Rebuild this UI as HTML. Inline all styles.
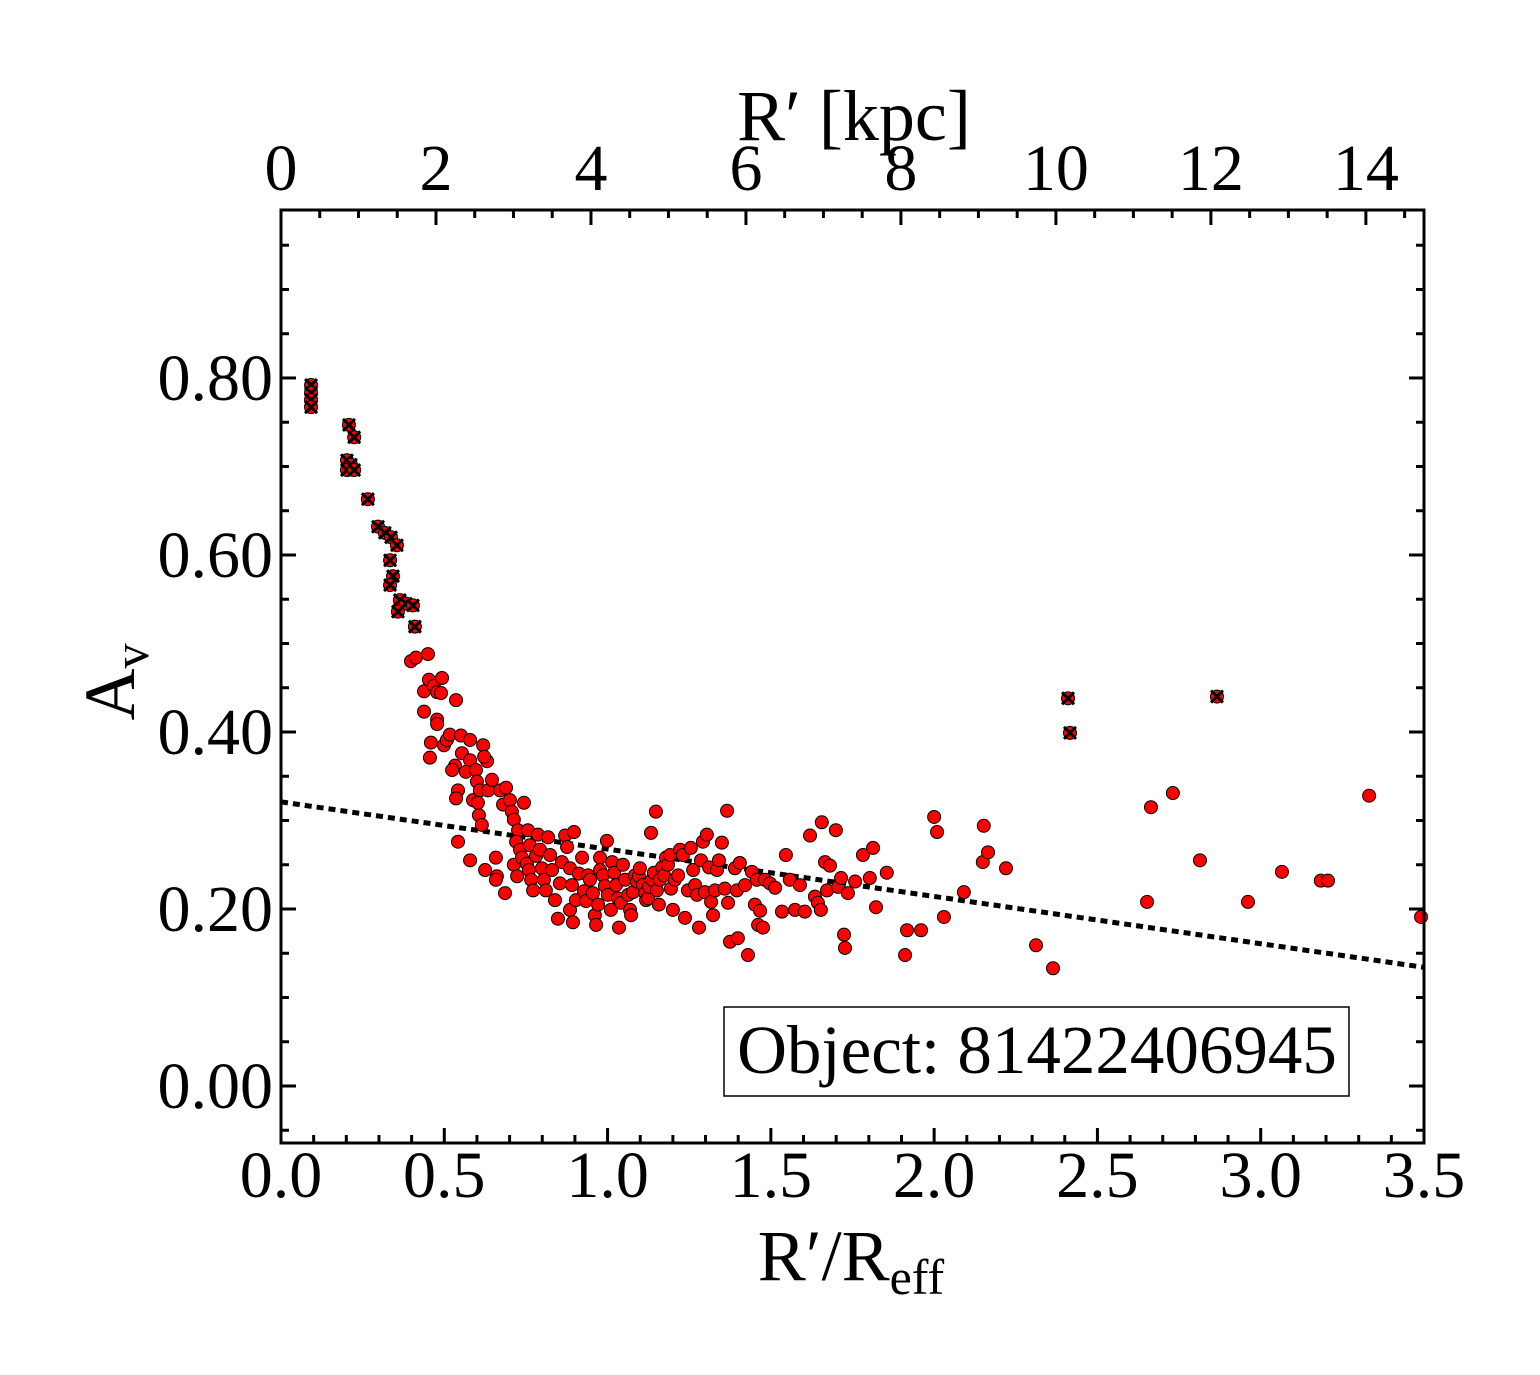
<!DOCTYPE html>
<html><head><meta charset="utf-8"><style>
html,body{margin:0;padding:0;background:#fff}
svg{display:block}
text{font-family:"Liberation Serif",serif;fill:#000}
</style></head><body>
<svg id="chart" width="1540" height="1375" viewBox="0 0 1540 1375" xmlns="http://www.w3.org/2000/svg">
<rect width="1540" height="1375" fill="#fff"/>
<g id="ticks"></g>
<g id="marks"></g>
<g id="labels"></g>
<rect x="281" y="210" width="1143" height="933" fill="none" stroke="#000" stroke-width="3"/>
<text x="851" y="1280" text-anchor="middle" font-size="72">R′/R<tspan font-size="50" dy="14">eff</tspan></text>
<text x="854" y="140" text-anchor="middle" font-size="72">R′ [kpc]</text>
<text transform="translate(134,682) rotate(-90)" text-anchor="middle" font-size="72">A<tspan font-size="50" dy="14">v</tspan></text>
<g>
<rect x="724" y="1007" width="625" height="89" fill="#fff" stroke="#000" stroke-width="1.5"/>
<text x="1037" y="1073" text-anchor="middle" font-size="69">Object: 81422406945</text>
</g>
</svg>
<script>
const xTicks=[0,0.5,1.0,1.5,2.0,2.5,3.0,3.5];
const xTickLabels=["0.0","0.5","1.0","1.5","2.0","2.5","3.0","3.5"];
const yTicks=[0,0.2,0.4,0.6,0.8];
const yTickLabels=["0.00","0.20","0.40","0.60","0.80"];
const kpcTicks=[0,2,4,6,8,10,12,14];
const kpcTickLabels=["0","2","4","6","8","10","12","14"];
const fitIntercept=0.321;
const fitSlope=-0.0534;
const flaggedX=[0.092,0.092,0.092,0.092,0.208,0.224,0.202,0.214,0.202,0.224,0.266,0.297,0.318,0.337,0.355,0.334,0.343,0.334,0.364,0.383,0.358,0.404,0.410,2.410,2.416,2.866];
const flaggedY=[0.792,0.783,0.775,0.767,0.747,0.733,0.707,0.702,0.696,0.696,0.663,0.632,0.625,0.620,0.611,0.594,0.576,0.566,0.549,0.545,0.536,0.543,0.519,0.438,0.399,0.440];
const pointX=[0.398,0.413,0.450,0.438,0.438,0.453,0.468,0.478,0.493,0.490,0.459,0.456,0.478,0.478,0.499,0.508,0.536,0.517,0.533,0.524,0.551,0.542,0.536,0.554,0.579,0.579,0.566,0.597,0.619,0.600,0.588,0.609,0.631,0.634,0.606,0.615,0.603,0.622,0.646,0.671,0.689,0.658,0.661,0.680,0.701,0.707,0.713,0.726,0.720,0.732,0.713,0.723,0.738,0.744,0.756,0.762,0.753,0.759,0.766,0.781,0.787,0.793,0.799,0.805,0.811,0.772,0.818,0.824,0.830,0.839,0.848,0.854,0.860,0.870,0.876,0.885,0.891,0.897,0.885,0.894,0.903,0.912,0.922,0.928,0.934,0.940,0.946,0.955,0.961,0.965,0.971,0.977,0.977,0.986,0.992,0.998,1.001,1.010,1.014,1.020,1.026,1.032,1.035,1.041,1.047,1.054,1.063,1.069,1.072,1.078,1.084,1.090,1.096,1.099,1.108,1.115,1.118,1.124,1.127,1.133,1.136,1.142,1.148,1.151,1.157,1.160,1.167,1.173,1.179,1.185,1.191,1.194,1.200,1.206,1.216,1.222,1.231,1.237,1.246,1.255,1.262,1.268,1.274,1.280,1.286,1.292,1.298,1.304,1.311,1.317,1.323,1.329,1.335,1.341,1.350,1.359,1.366,1.369,1.375,1.390,1.396,1.399,1.405,1.421,1.430,1.442,1.451,1.457,1.461,1.467,1.476,1.482,1.497,1.513,1.534,1.546,1.558,1.574,1.589,1.604,1.620,1.635,1.644,1.653,1.656,1.666,1.672,1.681,1.699,1.706,1.715,1.724,1.727,1.736,1.758,1.782,1.803,1.813,1.822,1.855,1.911,1.917,1.960,2.000,2.009,2.030,2.091,2.149,2.152,2.165,2.220,2.312,2.364,2.652,2.664,2.731,2.814,2.961,3.065,3.184,3.206,3.332,3.491,0.542,0.579,0.625,0.658,0.686];
const pointY=[0.480,0.484,0.488,0.446,0.423,0.459,0.452,0.445,0.461,0.444,0.388,0.371,0.414,0.409,0.385,0.391,0.436,0.397,0.362,0.357,0.396,0.334,0.325,0.376,0.391,0.368,0.355,0.357,0.385,0.344,0.323,0.334,0.367,0.334,0.306,0.295,0.320,0.372,0.346,0.334,0.337,0.258,0.237,0.318,0.323,0.310,0.301,0.289,0.276,0.267,0.250,0.237,0.258,0.320,0.289,0.272,0.251,0.244,0.233,0.260,0.284,0.267,0.246,0.233,0.221,0.221,0.281,0.261,0.244,0.210,0.189,0.229,0.253,0.283,0.270,0.246,0.227,0.287,0.199,0.185,0.210,0.240,0.258,0.220,0.209,0.238,0.233,0.218,0.193,0.182,0.205,0.258,0.244,0.238,0.226,0.277,0.216,0.199,0.253,0.241,0.227,0.212,0.179,0.207,0.250,0.233,0.216,0.199,0.193,0.219,0.238,0.231,0.237,0.246,0.227,0.218,0.210,0.212,0.225,0.286,0.233,0.241,0.310,0.221,0.205,0.233,0.247,0.238,0.258,0.250,0.261,0.223,0.199,0.233,0.238,0.267,0.261,0.190,0.221,0.269,0.244,0.227,0.216,0.179,0.255,0.276,0.219,0.284,0.247,0.208,0.193,0.221,0.244,0.255,0.275,0.223,0.311,0.207,0.163,0.246,0.221,0.167,0.252,0.227,0.148,0.242,0.205,0.233,0.182,0.198,0.179,0.233,0.229,0.224,0.197,0.261,0.233,0.199,0.227,0.197,0.283,0.214,0.207,0.199,0.298,0.253,0.221,0.249,0.289,0.225,0.235,0.171,0.156,0.218,0.231,0.261,0.235,0.269,0.202,0.241,0.148,0.176,0.176,0.304,0.287,0.191,0.219,0.253,0.294,0.264,0.246,0.159,0.133,0.208,0.315,0.331,0.255,0.208,0.242,0.232,0.232,0.328,0.191,0.276,0.255,0.244,0.233,0.218];

const L=281,R=1424,T=210,B=1143;
const xMin=0,xMax=3.5,yMin=-0.0644,yMax=0.9898;
const kpcMax=14.75;
function sx(v){return L+(v-xMin)/(xMax-xMin)*(R-L);}
function sy(v){return B-(v-yMin)/(yMax-yMin)*(B-T);}
function sk(v){return L+v/kpcMax*(R-L);}
const NS="http://www.w3.org/2000/svg";
function mk(tag,attrs,parent){const e=document.createElementNS(NS,tag);for(const k in attrs)e.setAttribute(k,attrs[k]);parent.appendChild(e);return e;}
const gT=document.getElementById('ticks'),gM=document.getElementById('marks'),gL=document.getElementById('labels');
function tick(x1,y1,x2,y2,w){const e=mk('line',{x1:x1,y1:y1,x2:x2,y2:y2,stroke:'#000','stroke-width':w},gT);

}
for(let i=0;i<=35;i++){const v=i*0.1;const x=sx(v);const maj=i%5===0;const len=maj?15:8;
tick(x,B,x,B-len,3);}
for(let i=-1;i<=19;i++){const v=i*0.05;const y=sy(v);if(y<T||y>B)continue;const maj=i%4===0;const len=maj?15:8;
tick(L,y,L+len,y,3);tick(R,y,R-len,y,3);}
for(let i=0;i<=29;i++){const v=i*0.5;const x=sk(v);if(x>R)continue;const maj=i%4===0;const len=maj?15:8;
tick(x,T,x,T+len,3);}
xTicks.forEach((v,i)=>{const t=mk('text',{x:sx(v),y:1197,'text-anchor':'middle','font-size':66},gL);t.textContent=xTickLabels[i];

});
yTicks.forEach((v,i)=>{const t=mk('text',{x:273,y:sy(v)+22,'text-anchor':'end','font-size':66},gL);t.textContent=yTickLabels[i];

});
kpcTicks.forEach((v,i)=>{const t=mk('text',{x:sk(v),y:190,'text-anchor':'middle','font-size':66},gL);t.textContent=kpcTickLabels[i];

});
const fl=mk('line',{x1:sx(xMin),y1:sy(fitIntercept+fitSlope*xMin),x2:sx(xMax),y2:sy(fitIntercept+fitSlope*xMax),stroke:'#000','stroke-width':5,'stroke-dasharray':'7 5'},gM);


pointX.forEach((v,i)=>{const c=mk('circle',{cx:sx(v),cy:sy(pointY[i]),r:6.5,fill:'#ff0000',stroke:'#000','stroke-width':1},gM);

});
flaggedX.forEach((v,i)=>{const x=sx(v),y=sy(flaggedY[i]);const g=mk('g',{},gM);


mk('circle',{cx:x,cy:y,r:6.5,fill:'#ff0000',stroke:'#000','stroke-width':1},g);
mk('path',{d:`M${x-6} ${y-6}L${x+6} ${y+6}M${x-6} ${y+6}L${x+6} ${y-6}`,stroke:'#000','stroke-width':3},g);});
</script>
</body></html>
